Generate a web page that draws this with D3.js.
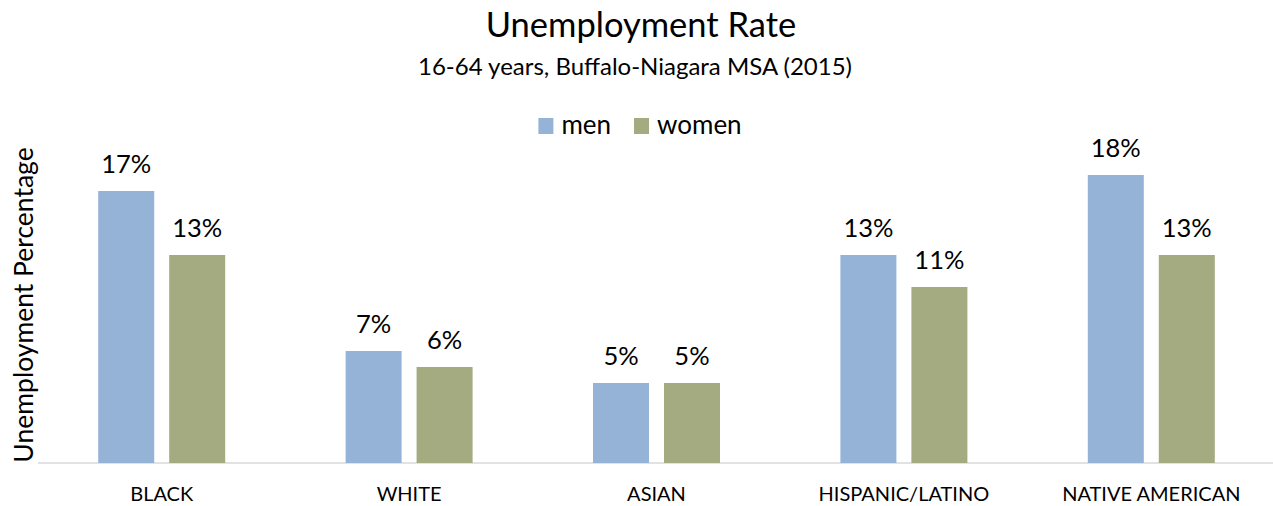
<!DOCTYPE html>
<html>
<head>
<meta charset="utf-8">
<script src="https://cdn.jsdelivr.net/npm/d3@7"></script>
<style>
  body { margin: 0; background: #fff; }
  text { font-family: Lato, "Open Sans", sans-serif; fill: #000; }
</style>
</head>
<body>
<div id="chart"></div>
<script>
// data
const categories = ["BLACK", "WHITE", "ASIAN", "HISPANIC/LATINO", "NATIVE AMERICAN"];
const series = ["men", "women"];
const men = [17, 7, 5, 13, 18];
const women = [13, 6, 5, 11, 13];
const colors = ["#95B3D7", "#A5AB80"];

const width = 1273;
const height = 506;

const svg = d3.select("#chart")
  .append("svg")
  .attr("width", width)
  .attr("height", height);

// scales
const x0 = d3.scaleBand()
  .domain(categories)
  .range([38, 1275])
  .paddingInner(0.4867)
  .paddingOuter(0.24335);

const x1 = d3.scaleBand()
  .domain(series)
  .range([0, x0.bandwidth()])
  .paddingInner(0.211);

const y = d3.scaleLinear()
  .domain([0, 20])
  .range([463, 143]);

const color = d3.scaleOrdinal().domain(series).range(colors);

// titles
svg.append("text")
  .attr("x", 641).attr("y", 37)
  .attr("text-anchor", "middle")
  .style("font-size", "34.5px")
  .text("Unemployment Rate");

svg.append("text")
  .attr("x", 635).attr("y", 75)
  .attr("text-anchor", "middle")
  .style("font-size", "24px")
  .text("16-64 years, Buffalo-Niagara MSA (2015)");

// y axis title
svg.append("text")
  .attr("transform", "translate(33,305) rotate(-90)")
  .attr("text-anchor", "middle")
  .style("font-size", "26.5px")
  .text("Unemployment Percentage");

// legend
const legend = svg.append("g");
let lx = 0;
series.forEach((s, i) => {
  const g = legend.append("g").attr("transform", `translate(${lx},0)`);
  g.append("rect")
    .attr("x", 0).attr("y", 118)
    .attr("width", 15).attr("height", 16)
    .attr("fill", color(s));
  const t = g.append("text")
    .attr("x", 23).attr("y", 134)
    .style("font-size", "26px")
    .text(s);
  lx += 23 + t.node().getComputedTextLength() + 23;
});
const lw = lx - 23;
legend.attr("transform", `translate(${640 - lw / 2},0)`);

// baseline
svg.append("line")
  .attr("x1", 38).attr("x2", width)
  .attr("y1", y(0)).attr("y2", y(0))
  .attr("stroke", "#D9D9D9")
  .attr("stroke-width", 1.5);

// bars
const rows = categories.map((c, i) => ({ cat: c, values: [
  { key: "men", value: men[i] },
  { key: "women", value: women[i] }
]}));

const groups = svg.selectAll("g.cat")
  .data(rows)
  .enter()
  .append("g")
  .attr("class", "cat")
  .attr("transform", d => `translate(${x0(d.cat)},0)`);

groups.selectAll("rect")
  .data(d => d.values)
  .enter()
  .append("rect")
  .attr("x", d => x1(d.key))
  .attr("y", d => y(d.value))
  .attr("width", x1.bandwidth())
  .attr("height", d => y(0) - y(d.value))
  .attr("fill", d => color(d.key));

groups.selectAll("text.val")
  .data(d => d.values)
  .enter()
  .append("text")
  .attr("class", "val")
  .attr("x", d => x1(d.key) + x1.bandwidth() / 2)
  .attr("y", d => y(d.value) - 18)
  .attr("text-anchor", "middle")
  .style("font-size", "25.5px")
  .text(d => d.value + "%");

// category labels
const xAxis = svg.append("g")
  .attr("transform", `translate(0,${y(0)})`)
  .call(d3.axisBottom(x0).tickSize(0).tickPadding(24));
xAxis.select(".domain").remove();
xAxis.selectAll("text")
  .style("font-size", "20px")
  .style("font-family", "Lato, 'Open Sans', sans-serif")
  .attr("fill", "#000");
</script>
</body>
</html>
